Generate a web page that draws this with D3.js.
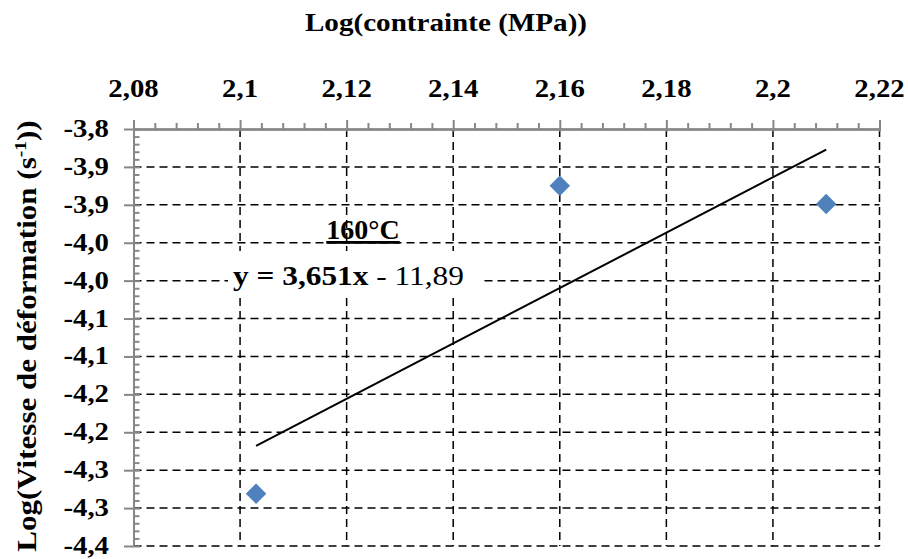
<!DOCTYPE html>
<html><head><meta charset="utf-8">
<script src="https://cdn.jsdelivr.net/npm/d3@7"></script>
<style>
html,body{margin:0;padding:0;background:#fff;}
svg{display:block;}
</style></head>
<body>
<svg id="chart" width="908" height="559"></svg>
<script>
// ---- data ----
const xTicks = [2.08, 2.10, 2.12, 2.14, 2.16, 2.18, 2.20, 2.22];
const xTickLabels = ["2,08", "2,1", "2,12", "2,14", "2,16", "2,18", "2,2", "2,22"];
const yTicks = [-3.80, -3.85, -3.90, -3.95, -4.00, -4.05, -4.10, -4.15, -4.20, -4.25, -4.30, -4.35];
const yTickLabels = ["-3,8", "-3,9", "-3,9", "-4,0", "-4,0", "-4,1", "-4,1", "-4,2", "-4,2", "-4,3", "-4,3", "-4,4"];
const xValues = [2.103, 2.160, 2.210];          // Log(contrainte)
const yValues = [-4.281, -3.875, -3.899];       // Log(vitesse)
const seriesLabel = "160°C";
const eqBold = "y = 3,651x";
const eqRest = " - 11,89";
const xTitle = "Log(contrainte (MPa))";

// ---- layout ----
const FONT = "'Liberation Serif', 'Times New Roman', Times, serif";
const svg = d3.select("#chart");
const L = 133.5, R = 879.5, T = 129, B = 546;
const x = d3.scaleLinear().domain([2.08, 2.22]).range([L, R]);
const y = d3.scaleLinear().domain([-3.80, -4.35]).range([T, B]);
const axisColor = "#878787";

// gridlines
svg.append("g").selectAll("line").data(yTicks.slice(1)).join("line")
  .attr("x1", L).attr("x2", R).attr("y1", d => y(d)).attr("y2", d => y(d))
  .attr("stroke", "#000").attr("stroke-width", 1.5).attr("stroke-dasharray", "8,5");
svg.append("g").selectAll("line").data(xTicks.slice(1)).join("line")
  .attr("x1", d => x(d)).attr("x2", d => x(d)).attr("y1", T).attr("y2", B)
  .attr("stroke", "#000").attr("stroke-width", 1.5).attr("stroke-dasharray", "8,5");

// minor ticks
const xMinor = d3.range(0, 36).map(i => 2.08 + i * 0.004).filter((d, i) => i % 5 !== 0);
const yMinor = d3.range(0, 56).map(i => -3.80 - i * 0.01).filter((d, i) => i % 5 !== 0);

function styleAxis(g) {
  g.select(".domain").attr("stroke", axisColor).attr("stroke-width", 2);
  g.selectAll(".tick line").attr("stroke", axisColor).attr("stroke-width", 2);
  g.selectAll(".tick text").remove();
}
svg.append("g").attr("transform", `translate(0,${T})`)
  .call(d3.axisTop(x).tickValues(xMinor).tickSize(6).tickSizeOuter(0).tickFormat(""))
  .call(styleAxis);
svg.append("g").attr("transform", `translate(0,${T})`)
  .call(d3.axisTop(x).tickValues(xTicks).tickSize(9).tickSizeOuter(0).tickFormat(""))
  .call(styleAxis);
svg.append("g").attr("transform", `translate(0,${T})`)
  .call(d3.axisBottom(x).tickValues(xTicks).tickSize(2.5).tickSizeOuter(0).tickFormat(""))
  .call(styleAxis);
svg.append("g").attr("transform", `translate(${L},0)`)
  .call(d3.axisRight(y).tickValues(yMinor).tickSize(6).tickSizeOuter(0).tickFormat(""))
  .call(styleAxis);
svg.append("g").attr("transform", `translate(${L},0)`)
  .call(d3.axisLeft(y).tickValues(yTicks).tickSize(9.5).tickSizeOuter(0).tickFormat(""))
  .call(styleAxis);
svg.append("g").attr("transform", `translate(${L},0)`)
  .call(d3.axisRight(y).tickValues(yTicks).tickSize(6.5).tickSizeOuter(0).tickFormat(""))
  .call(styleAxis);

// tick labels
const sx = 1.15;
svg.append("g").selectAll("g").data(xTicks).join("g")
  .attr("transform", d => `translate(${x(d)},97) scale(${sx},1)`)
  .append("text").attr("font-family", FONT).attr("text-anchor", "middle").attr("font-weight", "bold").attr("font-size", 25)
  .text((d, i) => xTickLabels[i]);
svg.append("g").selectAll("g").data(yTicks).join("g")
  .attr("transform", d => `translate(109,${y(d) + 8}) scale(${sx},1)`)
  .append("text").attr("font-family", FONT).attr("text-anchor", "end").attr("font-weight", "bold").attr("font-size", 25)
  .text((d, i) => yTickLabels[i]);

// axis titles
svg.append("g").attr("transform", `translate(446,31) scale(1.165,1)`)
  .append("text").attr("font-family", FONT).attr("text-anchor", "middle").attr("font-weight", "bold").attr("font-size", 25)
  .text(xTitle);
const yt = svg.append("g").attr("transform", `translate(36,336) rotate(-90) scale(1.15,1)`)
  .append("text").attr("font-family", FONT).attr("text-anchor", "middle").attr("font-weight", "bold").attr("font-size", 27);
yt.append("tspan").text("Log(Vitesse de déformation (s");
yt.append("tspan").attr("font-size", 17).attr("dy", -10).text("-1");
yt.append("tspan").attr("dy", 10).text("))");

// trendline (least squares on the data)
const mx = d3.mean(xValues), my = d3.mean(yValues);
const slope = d3.sum(xValues.map((v, i) => (v - mx) * (yValues[i] - my))) / d3.sum(xValues.map(v => (v - mx) ** 2));
const icpt = my - slope * mx;
const xr = d3.extent(xValues);
svg.append("line")
  .attr("x1", x(xr[0])).attr("y1", y(slope * xr[0] + icpt))
  .attr("x2", x(xr[1])).attr("y2", y(slope * xr[1] + icpt))
  .attr("stroke", "#000").attr("stroke-width", 2);

// points
svg.append("g").selectAll("path").data(xValues).join("path")
  .attr("d", d3.symbol(d3.symbolSquare, 210))
  .attr("transform", (d, i) => `translate(${x(d)},${y(yValues[i])}) rotate(45)`)
  .attr("fill", "#4F81BD");

// annotations
svg.append("rect").attr("x", 228).attr("y", 251).attr("width", 253).attr("height", 45).attr("fill", "#fff");
svg.append("text").attr("font-family", FONT).attr("x", 363).attr("y", 239).attr("text-anchor", "middle")
  .attr("font-weight", "bold").attr("font-size", 28).attr("text-decoration", "underline")
  .text(seriesLabel);
const eq = svg.append("g").attr("transform", "translate(233,285) scale(1.12,1)")
  .append("text").attr("font-family", FONT).attr("font-size", 28);
eq.append("tspan").attr("font-weight", "bold").text(eqBold);
eq.append("tspan").attr("font-weight", "normal").text(eqRest);
</script>
</body></html>
